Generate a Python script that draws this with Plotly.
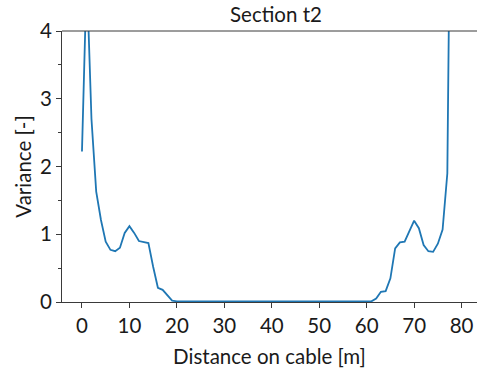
import plotly.graph_objects as go

distance = list(range(0, 79))
variance = [
    2.22, 4.85, 2.70, 1.63, 1.21, 0.89, 0.77, 0.75, 0.80, 1.02,
    1.12, 1.02, 0.90, 0.89, 0.87, 0.52, 0.21, 0.18, 0.10, 0.02,
    0.01, 0.01, 0.01, 0.01, 0.01, 0.01, 0.01, 0.01, 0.01, 0.01,
    0.01, 0.01, 0.01, 0.01, 0.01, 0.01, 0.01, 0.01, 0.01, 0.01,
    0.015, 0.02, 0.02, 0.015, 0.01, 0.01, 0.01, 0.01, 0.01, 0.01,
    0.01, 0.01, 0.01, 0.01, 0.01, 0.01, 0.01, 0.01, 0.01, 0.01,
    0.01, 0.01, 0.05, 0.15, 0.16, 0.35, 0.79, 0.88, 0.89, 1.04,
    1.20, 1.09, 0.84, 0.75, 0.74, 0.86, 1.07, 1.90, 8.9,
]
x_ticks = [0, 10, 20, 30, 40, 50, 60, 70, 80]
y_ticks = [0, 1, 2, 3, 4]

FONT = "Lato"
TXT = "#1a1a1a"
AX = "#3a3a3a"
FS = 20.5

fig = go.Figure()
fig.add_trace(go.Scatter(x=distance, y=variance, mode="lines",
                         line=dict(color="#1f77b4", width=1.8), showlegend=False))

fig.update_layout(
    width=477, height=370,
    margin=dict(l=62, r=0, t=31, b=68),
    paper_bgcolor="white", plot_bgcolor="white",
    font=dict(family=FONT, size=FS, color=TXT),
    title=dict(text="Section t2", x=276/477, xanchor="center", y=1-15/370, yanchor="middle",
               font=dict(family=FONT, size=FS, color=TXT)),
    shapes=[dict(type="line", xref="paper", yref="paper", x0=0, x1=1, y0=1, y1=1,
                 line=dict(color=AX, width=1))],
)
fig.update_xaxes(range=[-4.21, 83.25], tickmode="array", tickvals=x_ticks,
                 showgrid=False, zeroline=False, showline=True, linecolor=AX, linewidth=1,
                 ticks="outside", ticklen=5, tickcolor=AX, tickwidth=1,
                 tickfont=dict(family=FONT, size=FS, color=TXT),
                 title=dict(text="Distance on cable [m]", standoff=14,
                            font=dict(family=FONT, size=FS, color=TXT)))
fig.update_yaxes(range=[0, 4], tickmode="array", tickvals=y_ticks,
                 showgrid=False, zeroline=False, showline=True, linecolor=AX, linewidth=1,
                 ticks="outside", ticklen=5, tickcolor=AX, tickwidth=1,
                 minor=dict(tickvals=[0.5, 1.5, 2.5, 3.5], ticks="outside", ticklen=3,
                            tickcolor=AX, tickwidth=1, showgrid=False),
                 tickfont=dict(family=FONT, size=FS, color=TXT),
                 title=dict(text="Variance [-]", standoff=2,
                            font=dict(family=FONT, size=FS, color=TXT)))

fig.write_html("out.html")
